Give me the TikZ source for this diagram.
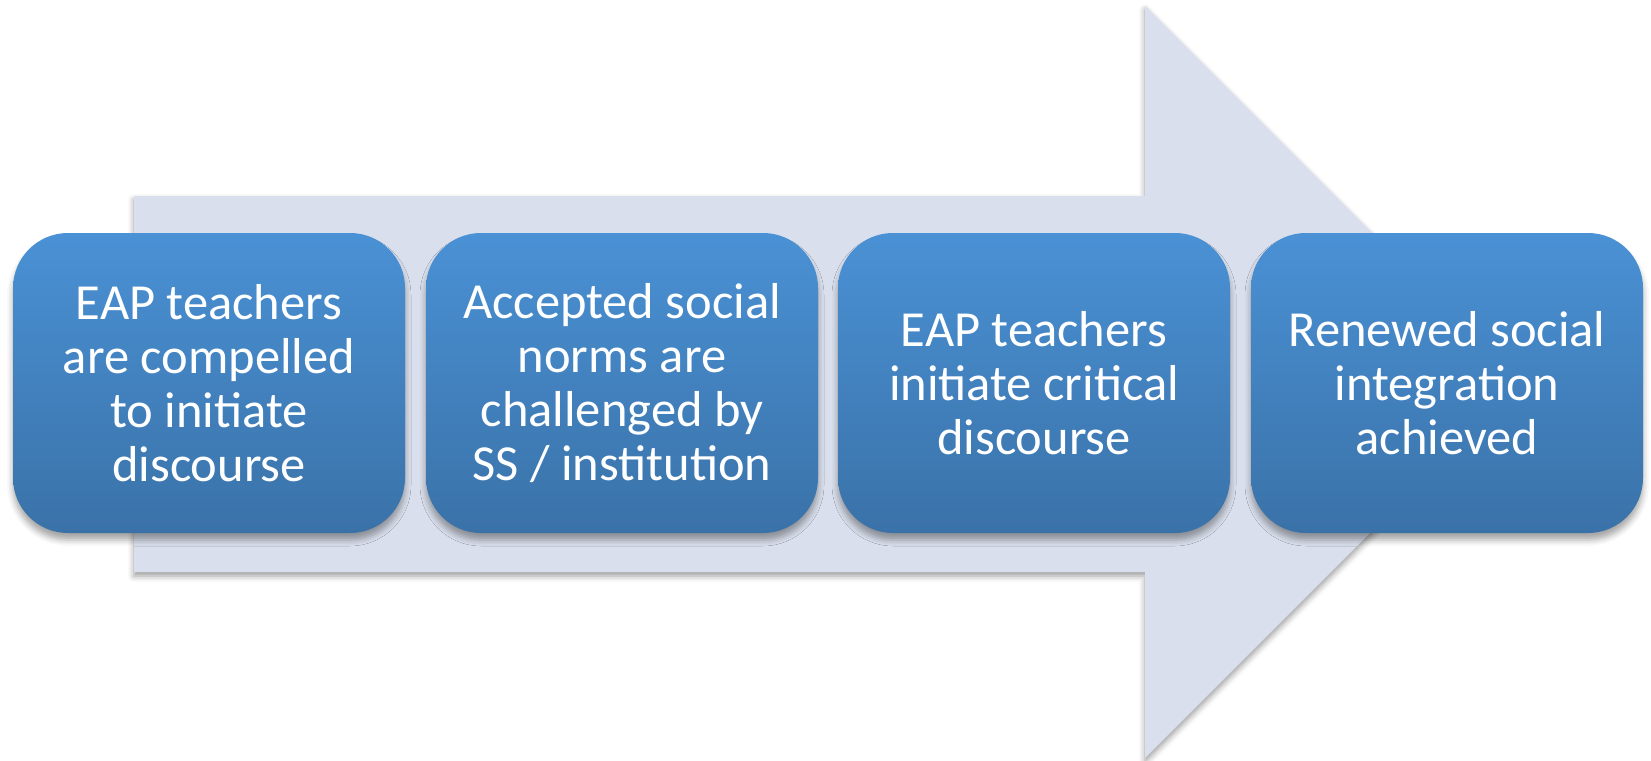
\documentclass[tikz,border=0pt]{standalone}
\usepackage{fontspec}
\setmainfont{Carlito}
\usetikzlibrary{shadows.blur}
\definecolor{arrowfill}{RGB}{217,223,236}
\definecolor{boxtop}{RGB}{74,145,213}
\definecolor{boxbot}{RGB}{58,114,168}
\tikzset{
  stepbox/.style={rounded corners=55pt, minimum width=392pt, minimum height=300pt,
    top color=boxtop, bottom color=boxbot, draw=none, text=white, align=center,
    font=\fontsize{50.5pt}{54pt}\selectfont, inner sep=0pt,
    blur shadow={shadow xshift=0pt, shadow yshift=-7pt, shadow blur radius=6pt, shadow opacity=35}},
  bigarrow/.style={fill=arrowfill, draw=none,
    blur shadow={shadow xshift=0pt, shadow yshift=-4pt, shadow blur radius=6pt, shadow opacity=40}}
}
\begin{document}
\begin{tikzpicture}[x=1pt,y=-1pt]
\useasboundingbox (0,0) rectangle (1651,760);
\path[bigarrow] (134,196) -- (1145,196) -- (1145,6) -- (1521,382) -- (1145,758) -- (1145,572) -- (134,572) -- cycle;
\node[stepbox] (b1) at (209,383) {EAP teachers\\are compelled\\to initiate\\discourse};
\node[stepbox] (b2) at (622,383) {Accepted social\\norms are\\challenged by\\SS / institution};
\node[stepbox] (b3) at (1034,383) {EAP teachers\\initiate critical\\discourse};
\node[stepbox] (b4) at (1447,383) {Renewed social\\integration\\achieved};
\end{tikzpicture}
\end{document}
